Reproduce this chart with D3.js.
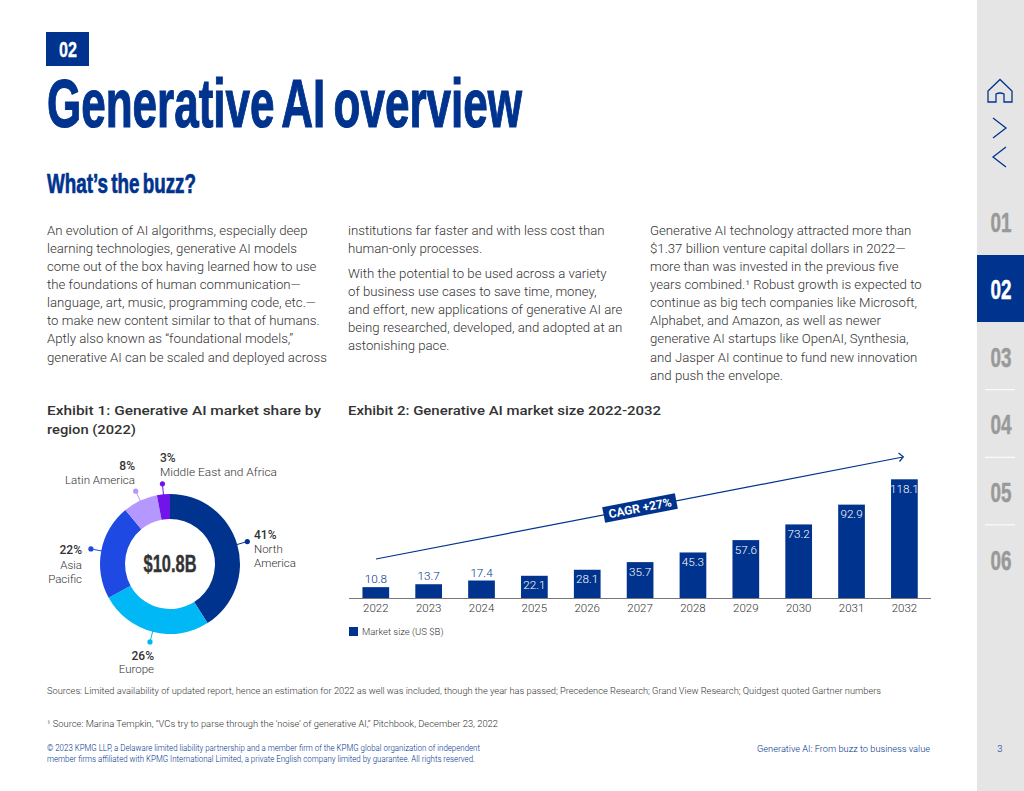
<!DOCTYPE html>
<html><head><meta charset="utf-8">
<script src="https://cdn.jsdelivr.net/npm/d3@7"></script>
<style>
html,body{margin:0;padding:0;background:#fff;overflow:hidden}
svg{display:block}
text{font-family:Roboto,"Liberation Sans",sans-serif}
.lt{font-weight:300;fill:#333}
.cond{font-family:"Liberation Sans Narrow","Liberation Sans",sans-serif;font-weight:700}
</style></head><body>
<svg id="c" width="1024" height="791"></svg>
<script>
const regions = ["North America","Europe","Asia Pacific","Latin America","Middle East and Africa"];
const shares = [41,26,22,8,3];
const regionColors = ["#00338D","#00B8F5","#1E49E2","#B497FF","#7213EA"];
const years = ["2022","2023","2024","2025","2026","2027","2028","2029","2030","2031","2032"];
const marketSize = [10.8,13.7,17.4,22.1,28.1,35.7,45.3,57.6,73.2,92.9,118.1];
const col1 = ["An evolution of AI algorithms, especially deep","learning technologies, generative AI models","come out of the box having learned how to use","the foundations of human communication—","language, art, music, programming code, etc.—","to make new content similar to that of humans.","Aptly also known as “foundational models,”","generative AI can be scaled and deployed across"];
const col2a = ["institutions far faster and with less cost than","human-only processes."];
const col2b = ["With the potential to be used across a variety","of business use cases to save time, money,","and effort, new applications of generative AI are","being researched, developed, and adopted at an","astonishing pace."];
const col3 = ["Generative AI technology attracted more than","$1.37 billion venture capital dollars in 2022—","more than was invested in the previous five","years combined.¹ Robust growth is expected to","continue as big tech companies like Microsoft,","Alphabet, and Amazon, as well as newer","generative AI startups like OpenAI, Synthesia,","and Jasper AI continue to fund new innovation","and push the envelope."];
const navItems = ["01","02","03","04","05","06"];

const BLUE="#00338D";
const svg=d3.select("#c");
function T(s,x,y,size,opt={}){
  const t=svg.append("text").attr("x",x).attr("y",y).attr("font-size",size).text(s);
  t.attr("class",opt.cls||"lt");
  if(opt.fill)t.style("fill",opt.fill);
  if(opt.anchor)t.attr("text-anchor",opt.anchor);
  if(opt.weight)t.style("font-weight",opt.weight);
  if(opt.stroke)t.style("stroke",opt.fill).style("stroke-width",opt.stroke);
  if(opt.ws)t.style("word-spacing",opt.ws+"px");
  if(opt.stretch)t.attr("textLength",t.node().getComputedTextLength()*opt.stretch).attr("lengthAdjust","spacingAndGlyphs");
  if(opt.len)t.attr("textLength",opt.len).attr("lengthAdjust","spacingAndGlyphs");
  return t;
}
// sidebar
svg.append("rect").attr("x",977).attr("y",0).attr("width",47).attr("height",791).attr("fill","#E5E5E5");
svg.append("rect").attr("x",977).attr("y",255).attr("width",47).attr("height",67).attr("fill",BLUE);
const navY=d3.scalePoint().domain(navItems).range([231.5,569.5]);
navItems.forEach(n=>T(n,1001,navY(n),28.5,{cls:"cond",anchor:"middle",fill:n==="02"?"#fff":"#999",len:21,stroke:.5}));
navItems.slice(2,5).forEach(n=>svg.append("line").attr("x1",985).attr("x2",1015).attr("y1",navY(n)+23).attr("y2",navY(n)+23).attr("stroke","#fff"));
const ic=svg.append("g").attr("fill","none").attr("stroke",BLUE).attr("stroke-width",1.3);
ic.append("path").attr("d","M988 91 L1000 79.5 L1012 91 V102 H1004 V94 Q1000 92 996 94 V102 H988 Z");
ic.append("path").attr("d","M993 118 L1006 128 L993 138");
ic.append("path").attr("d","M1006 147 L993 157 L1006 167");
// header
svg.append("rect").attr("x",46).attr("y",32).attr("width",43).attr("height",34).attr("fill",BLUE);
T("02",68,57,22,{cls:"cond",anchor:"middle",fill:"#fff",len:18,stroke:.3});
T("Generative AI overview",47,126.5,68,{cls:"cond",fill:BLUE,stroke:1.2,ws:-6,len:475});
T("What’s the buzz?",47,193,27.5,{cls:"cond",fill:BLUE,stroke:.7,ws:-3,len:149});
// body
function para(lines,x,y0){lines.forEach((l,i)=>T(l,x,y0+i*18.15,12,{stretch:1.1}));}
para(col1,47,234.5);
para(col2a,348,234.5);
para(col2b,348,277.5);
para(col3,650,234.5);
// exhibit titles
const head={weight:500,fill:"#333",cls:"x"};
T("Exhibit 1: Generative AI market share by",47,415,13,{...head,len:274});
T("region (2022)",47,434,13,{...head,len:89});
T("Exhibit 2: Generative AI market size 2022-2032",348,415,13,{...head,len:313});

// donut
const cx=170,cy=564,R=70,r=45;
const pie=d3.pie().sort(null)(shares);
const arc=d3.arc().innerRadius(r).outerRadius(R);
const g=svg.append("g").attr("transform",`translate(${cx},${cy})`);
g.selectAll("path").data(pie).join("path").attr("d",arc).attr("fill",(d,i)=>regionColors[i]);
pie.forEach((d,i)=>{
  const mid=(d.startAngle+d.endAngle)/2;
  const x=Math.sin(mid)*80.5,y=-Math.cos(mid)*80.5;
  const xs=Math.sin(mid)*R*.98,ys=-Math.cos(mid)*R*.98;
  g.append("line").attr("x1",xs).attr("y1",ys).attr("x2",x).attr("y2",y).attr("stroke",regionColors[i]).attr("stroke-width",1);
  g.append("circle").attr("cx",x).attr("cy",y).attr("r",2.6).attr("fill",regionColors[i]);
});
T("$10.8B",170,572,24,{cls:"cond",anchor:"middle",fill:"#333",len:53,stroke:.4});
const bold={weight:500,fill:"#333",cls:"x"};
T(shares[0]+"%",254,539,12,bold);
T("North",254,553,11.5);T("America",254,567,11.5);
T(shares[1]+"%",154,660,12,{...bold,anchor:"end"});
T("Europe",154,673,11.5,{anchor:"end"});
T(shares[2]+"%",82,554,12,{...bold,anchor:"end"});
T("Asia",82,569,11.5,{anchor:"end"});T("Pacific",82,583,11.5,{anchor:"end"});
T(shares[3]+"%",135,470,12,{...bold,anchor:"end"});
T("Latin America",135,484,11.5,{anchor:"end",len:70});
T(shares[4]+"%",160,462,12,bold);
T("Middle East and Africa",160,476,11.5,{len:117});

// bars
const barW=26.7;
const xc=d3.scalePoint().domain(years).range([375.8,904.4]);
const y=d3.scaleLinear().domain([0,118.1]).range([598,479.3]);
svg.selectAll("rect.bar").data(marketSize).join("rect").attr("class","bar")
  .attr("x",(d,i)=>xc(years[i])-barW/2).attr("width",barW).attr("y",d=>y(d)).attr("height",d=>598-y(d)).attr("fill",BLUE);
svg.append("line").attr("x1",349).attr("x2",931).attr("y1",598.5).attr("y2",598.5).attr("stroke","#777").attr("stroke-width",1);
marketSize.forEach((d,i)=>{
  const inside=i>=3;
  T(d,xc(years[i]),inside?y(d)+13.5:y(d)-4,11.7,{anchor:"middle",fill:inside?"#fff":BLUE});
  T(years[i],xc(years[i]),611.5,11.5,{anchor:"middle"});
});
// legend
svg.append("rect").attr("x",349).attr("y",627).attr("width",9).attr("height",9).attr("fill",BLUE);
T("Market size (US $B)",362,635,9.5);
// arrow
svg.append("line").attr("x1",376).attr("y1",559).attr("x2",903).attr("y2",457).attr("stroke",BLUE).attr("stroke-width",1.2);
svg.append("path").attr("d","M898.5 453 L903.3 456.9 L899.5 461.5").attr("fill","none").attr("stroke",BLUE).attr("stroke-width",1.2);
const badge=svg.append("g").attr("transform","translate(640,508) rotate(-10.9)");
badge.append("rect").attr("x",-37).attr("y",-8).attr("width",74).attr("height",16).attr("fill",BLUE);
badge.append("text").attr("text-anchor","middle").attr("y",4.2).attr("font-size",12).attr("font-weight",700).attr("fill","#fff").text("CAGR +27%");
// footer
T("Sources: Limited availability of updated report, hence an estimation for 2022 as well was included, though the year has passed; Precedence Research; Grand View Research; Quidgest quoted Gartner numbers",47,694,9.3,{len:834});
T("¹ Source: Marina Tempkin, “VCs try to parse through the ‘noise’ of generative AI,” Pitchbook, December 23, 2022",47,727,9.3,{len:451});
T("© 2023 KPMG LLP, a Delaware limited liability partnership and a member firm of the KPMG global organization of independent",47,751,8.3,{fill:BLUE,len:433});
T("member firms affiliated with KPMG International Limited, a private English company limited by guarantee. All rights reserved.",47,762,8.3,{fill:BLUE,len:428});
T("Generative AI: From buzz to business value",930,752,9.5,{fill:BLUE,anchor:"end",len:173});
T("3",1000,752,9.5,{fill:BLUE,anchor:"middle"});
</script></body></html>
